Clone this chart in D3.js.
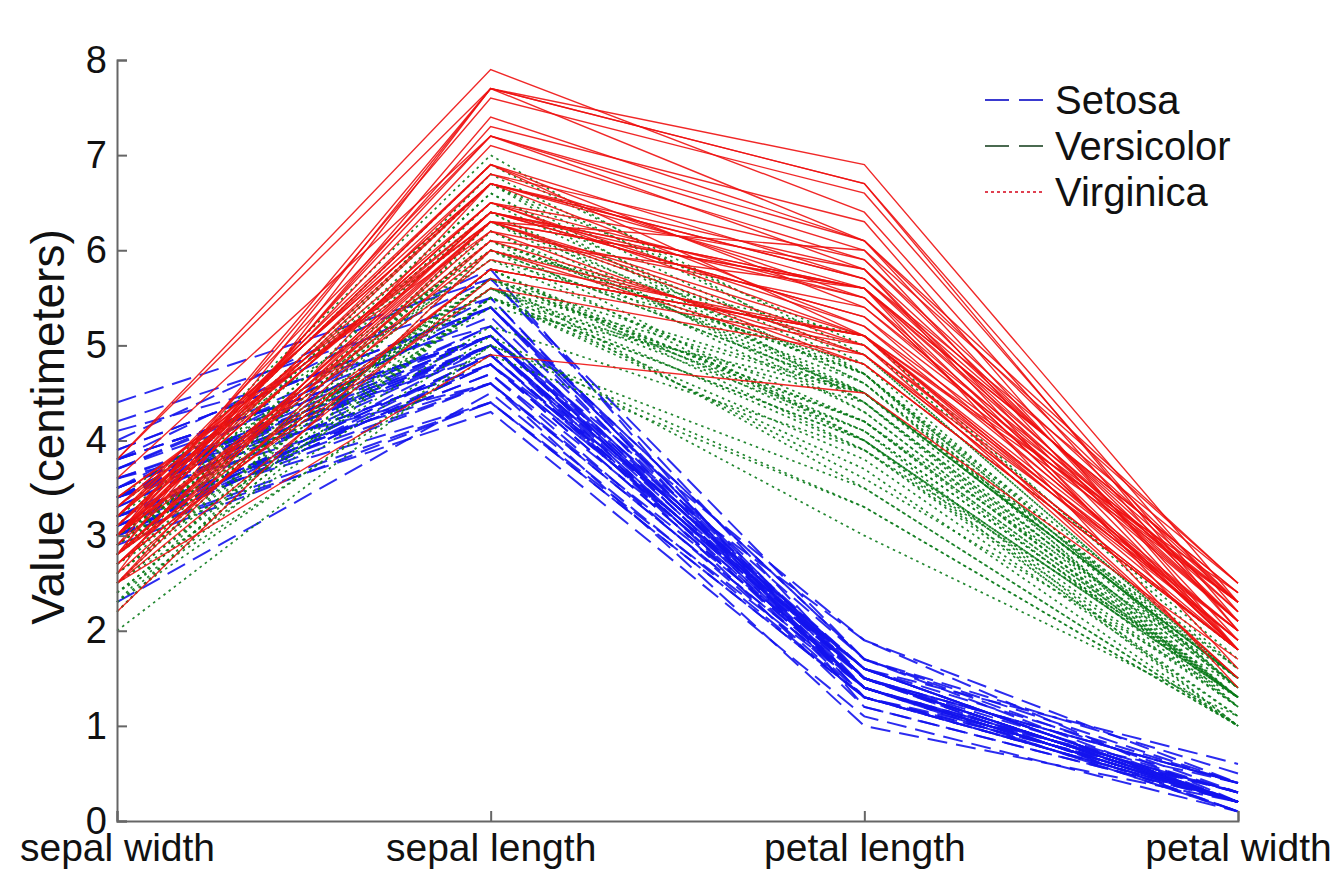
<!DOCTYPE html>
<html>
<head>
<meta charset="utf-8">
<script src="https://cdn.jsdelivr.net/npm/d3@7"></script>
<style>
  html, body { margin: 0; padding: 0; background: #ffffff; }
  svg { display: block; }
  text { font-family: "Liberation Sans", Arial, sans-serif; fill: #111; }
</style>
</head>
<body>
<svg id="chart" width="1341" height="871"></svg>
<script>
// Axis (dimension) labels in display order
const dimensions = ["sepal width", "sepal length", "petal length", "petal width"];
const yTicks = [0, 1, 2, 3, 4, 5, 6, 7, 8];
const speciesNames = ["Setosa", "Versicolor", "Virginica"];

// Rows: [sepal length, sepal width, petal length, petal width]
const setosa = [
[5.1,3.5,1.4,0.2],[4.9,3.0,1.4,0.2],[4.7,3.2,1.3,0.2],[4.6,3.1,1.5,0.2],[5.0,3.6,1.4,0.2],
[5.4,3.9,1.7,0.4],[4.6,3.4,1.4,0.3],[5.0,3.4,1.5,0.2],[4.4,2.9,1.4,0.2],[4.9,3.1,1.5,0.1],
[5.4,3.7,1.5,0.2],[4.8,3.4,1.6,0.2],[4.8,3.0,1.4,0.1],[4.3,3.0,1.1,0.1],[5.8,4.0,1.2,0.2],
[5.7,4.4,1.5,0.4],[5.4,3.9,1.3,0.4],[5.1,3.5,1.4,0.3],[5.7,3.8,1.7,0.3],[5.1,3.8,1.5,0.3],
[5.4,3.4,1.7,0.2],[5.1,3.7,1.5,0.4],[4.6,3.6,1.0,0.2],[5.1,3.3,1.7,0.5],[4.8,3.4,1.9,0.2],
[5.0,3.0,1.6,0.2],[5.0,3.4,1.6,0.4],[5.2,3.5,1.5,0.2],[5.2,3.4,1.4,0.2],[4.7,3.2,1.6,0.2],
[4.8,3.1,1.6,0.2],[5.4,3.4,1.5,0.4],[5.2,4.1,1.5,0.1],[5.5,4.2,1.4,0.2],[4.9,3.1,1.5,0.2],
[5.0,3.2,1.2,0.2],[5.5,3.5,1.3,0.2],[4.9,3.6,1.4,0.1],[4.4,3.0,1.3,0.2],[5.1,3.4,1.5,0.2],
[5.0,3.5,1.3,0.3],[4.5,2.3,1.3,0.3],[4.4,3.2,1.3,0.2],[5.0,3.5,1.6,0.6],[5.1,3.8,1.9,0.4],
[4.8,3.0,1.4,0.3],[5.1,3.8,1.6,0.2],[4.6,3.2,1.4,0.2],[5.3,3.7,1.5,0.2],[5.0,3.3,1.4,0.2]
];
const versicolor = [
[7.0,3.2,4.7,1.4],[6.4,3.2,4.5,1.5],[6.9,3.1,4.9,1.5],[5.5,2.3,4.0,1.3],[6.5,2.8,4.6,1.5],
[5.7,2.8,4.5,1.3],[6.3,3.3,4.7,1.6],[4.9,2.4,3.3,1.0],[6.6,2.9,4.6,1.3],[5.2,2.7,3.9,1.4],
[5.0,2.0,3.5,1.0],[5.9,3.0,4.2,1.5],[6.0,2.2,4.0,1.0],[6.1,2.9,4.7,1.4],[5.6,2.9,3.6,1.3],
[6.7,3.1,4.4,1.4],[5.6,3.0,4.5,1.5],[5.8,2.7,4.1,1.0],[6.2,2.2,4.5,1.5],[5.6,2.5,3.9,1.1],
[5.9,3.2,4.8,1.8],[6.1,2.8,4.0,1.3],[6.3,2.5,4.9,1.5],[6.1,2.8,4.7,1.2],[6.4,2.9,4.3,1.3],
[6.6,3.0,4.4,1.4],[6.8,2.8,4.8,1.4],[6.7,3.0,5.0,1.7],[6.0,2.9,4.5,1.5],[5.7,2.6,3.5,1.0],
[5.5,2.4,3.8,1.1],[5.5,2.4,3.7,1.0],[5.8,2.7,3.9,1.2],[6.0,2.7,5.1,1.6],[5.4,3.0,4.5,1.5],
[6.0,3.4,4.5,1.6],[6.7,3.1,4.7,1.5],[6.3,2.3,4.4,1.3],[5.6,3.0,4.1,1.3],[5.5,2.5,4.0,1.3],
[5.5,2.6,4.4,1.2],[6.1,3.0,4.6,1.4],[5.8,2.6,4.0,1.2],[5.0,2.3,3.3,1.0],[5.6,2.7,4.2,1.3],
[5.7,3.0,4.2,1.2],[5.7,2.9,4.2,1.3],[6.2,2.9,4.3,1.3],[5.1,2.5,3.0,1.1],[5.7,2.8,4.1,1.3]
];
const virginica = [
[6.3,3.3,6.0,2.5],[5.8,2.7,5.1,1.9],[7.1,3.0,5.9,2.1],[6.3,2.9,5.6,1.8],[6.5,3.0,5.8,2.2],
[7.6,3.0,6.6,2.1],[4.9,2.5,4.5,1.7],[7.3,2.9,6.3,1.8],[6.7,2.5,5.8,1.8],[7.2,3.6,6.1,2.5],
[6.5,3.2,5.1,2.0],[6.4,2.7,5.3,1.9],[6.8,3.0,5.5,2.1],[5.7,2.5,5.0,2.0],[5.8,2.8,5.1,2.4],
[6.4,3.2,5.3,2.3],[6.5,3.0,5.5,1.8],[7.7,3.8,6.7,2.2],[7.7,2.6,6.9,2.3],[6.0,2.2,5.0,1.5],
[6.9,3.2,5.7,2.3],[5.6,2.8,4.9,2.0],[7.7,2.8,6.7,2.0],[6.3,2.7,4.9,1.8],[6.7,3.3,5.7,2.1],
[7.2,3.2,6.0,1.8],[6.2,2.8,4.8,1.8],[6.1,3.0,4.9,1.8],[6.4,2.8,5.6,2.1],[7.2,3.0,5.8,1.6],
[7.4,2.8,6.1,1.9],[7.9,3.8,6.4,2.0],[6.4,2.8,5.6,2.2],[6.3,2.8,5.1,1.5],[6.1,2.6,5.6,1.4],
[7.7,3.0,6.1,2.3],[6.3,3.4,5.6,2.4],[6.4,3.1,5.5,1.8],[6.0,3.0,4.8,1.8],[6.9,3.1,5.4,2.1],
[6.7,3.1,5.6,2.4],[6.9,3.1,5.1,2.3],[5.8,2.7,5.1,1.9],[6.8,3.2,5.9,2.3],[6.7,3.3,5.7,2.5],
[6.7,3.0,5.2,2.3],[6.3,2.5,5.0,1.9],[6.5,3.0,5.2,2.0],[6.2,3.4,5.4,2.3],[5.9,3.0,5.1,1.8]
];

// Which column of a row belongs to each displayed dimension
const dimColumn = [1, 0, 2, 3];

const groups = [
  { name: speciesNames[0], rows: setosa,     color: "#1414ee", dash: "20,9", width: 2.0, legendColor: "#3a3ad0", legendDash: "24,10" },
  { name: speciesNames[1], rows: versicolor, color: "#0a7a1a", dash: "2.5,4", width: 1.7, legendColor: "#4a6a50", legendDash: "24,10" },
  { name: speciesNames[2], rows: virginica,  color: "#ee1111", dash: null,   width: 1.4, legendColor: "#e04050", legendDash: "3,3" }
];

const svg = d3.select("#chart");
const margin = { left: 117, right: 1238, top: 60, bottom: 821 };

const x = d3.scalePoint().domain(dimensions).range([margin.left, margin.right]);
const y = d3.scaleLinear().domain([0, 8]).range([margin.bottom, margin.top]);

const line = d3.line().x(d => x(d.dim)).y(d => y(d.v));

const plot = svg.append("g");
groups.forEach(g => {
  plot.append("g").selectAll("path")
    .data(g.rows)
    .join("path")
    .attr("d", r => line(dimensions.map((dim, i) => ({ dim, v: r[dimColumn[i]] }))))
    .attr("fill", "none")
    .attr("stroke", g.color)
    .attr("stroke-width", g.width)
    .attr("stroke-dasharray", g.dash)
    .attr("stroke-opacity", 0.9);
});

// Y axis
const yAxis = d3.axisLeft(y).tickValues(yTicks).tickSize(-10).tickPadding(10).tickFormat(d3.format("d"));
const gy = svg.append("g").attr("transform", `translate(${margin.left},0)`).call(yAxis);
gy.select(".domain").attr("stroke", "#666").attr("stroke-width", 2);
gy.selectAll(".tick line").attr("stroke", "#666").attr("stroke-width", 2);
gy.selectAll(".tick text").attr("font-size", 38).attr("font-family", "Liberation Sans, Arial, sans-serif").attr("fill", "#111");

// X axis
const xAxis = d3.axisBottom(x).tickSize(-10).tickPadding(12);
const gx = svg.append("g").attr("transform", `translate(0,${margin.bottom})`).call(xAxis);
gx.select(".domain").attr("stroke", "#666").attr("stroke-width", 2);
gx.selectAll(".tick line").attr("stroke", "#666").attr("stroke-width", 2);
gx.selectAll(".tick text").attr("font-size", 39).attr("font-family", "Liberation Sans, Arial, sans-serif").attr("fill", "#111");

// Y label
svg.append("text")
  .attr("transform", `translate(64,427) rotate(-90)`)
  .attr("text-anchor", "middle")
  .attr("font-size", 46)
  .text("Value (centimeters)");

// Legend
const legend = svg.append("g");
const legendY = [100, 146, 192];
groups.forEach((g, i) => {
  legend.append("line")
    .attr("x1", 985).attr("x2", 1045)
    .attr("y1", legendY[i]).attr("y2", legendY[i])
    .attr("stroke", g.legendColor)
    .attr("stroke-width", 2)
    .attr("stroke-dasharray", g.legendDash);
  legend.append("text")
    .attr("x", 1055).attr("y", legendY[i])
    .attr("dy", "0.36em")
    .attr("font-size", 40)
    .text(g.name);
});
</script>
</body>
</html>
